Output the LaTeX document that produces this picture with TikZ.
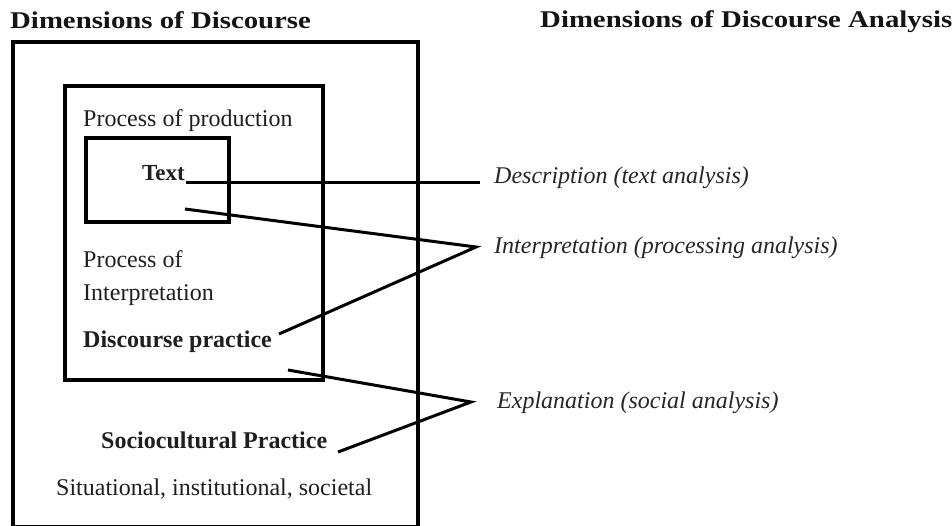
\documentclass[tikz,border=0pt]{standalone}
\usepackage{fontspec}
\setmainfont{Liberation Serif}
\begin{document}
\begin{tikzpicture}[x=1pt,y=-1pt,
  box/.style={draw=black,line width=3.6pt},
  conn/.style={draw=black,line width=3pt,line join=miter},
  lbl/.style={anchor=base west,inner sep=0pt,font=\fontsize{24}{28}\selectfont,text=black!88},
  ttl/.style={anchor=base west,inner sep=0pt,font=\fontsize{24}{28}\selectfont\bfseries,text=black!92},
  ana/.style={anchor=base west,inner sep=0pt,font=\fontsize{24}{28}\selectfont\itshape,text=black!85}]
\useasboundingbox[fill=white] (0,0) rectangle (952,525);
% titles
\node[ttl] (t1) at (10,28) {\scalebox{1.2}[1]{Dimensions of Discourse}};
\node[ttl] (t2) at (540,27) {\scalebox{1.2}[1]{Dimensions of Discourse Analysis}};
% boxes
\draw[box] (13,42) rectangle (418,527);
\draw[box] (65,86) rectangle (323,380);
\draw[box] (86,138) rectangle (229,222);
% labels inside
\node[lbl] (prod) at (83,126) {Process of production};
\node[lbl,font=\fontsize{23}{28}\selectfont\bfseries] (text) at (142,180) {Text};
\node[lbl] (interp1) at (83,267) {Process of};
\node[lbl] (interp2) at (83,300) {Interpretation};
\node[lbl,font=\fontsize{24}{28}\selectfont\bfseries] (dp) at (83,347) {Discourse practice};
\node[lbl,font=\fontsize{24}{28}\selectfont\bfseries] (sp) at (101,448) {Sociocultural Practice};
\node[lbl] (sit) at (56,495) {Situational, institutional, societal};
% analysis labels
\node[ana] (desc) at (494,183) {Description (text analysis)};
\node[ana] (intp) at (494,253) {Interpretation (processing analysis)};
\node[ana] (expl) at (497,408) {Explanation (social analysis)};
% connector points
\coordinate (d1) at (186,182); \coordinate (d2) at (480,182);
\coordinate (i1) at (185,209); \coordinate (iv) at (476,247); \coordinate (i2) at (279,334);
\coordinate (e1) at (288,370); \coordinate (ev) at (471,402); \coordinate (e2) at (338,452);
\draw[conn] (d1) -- (d2);
\draw[conn] (i1) -- (iv) -- (i2);
\draw[conn] (e1) -- (ev) -- (e2);
\end{tikzpicture}
\end{document}
